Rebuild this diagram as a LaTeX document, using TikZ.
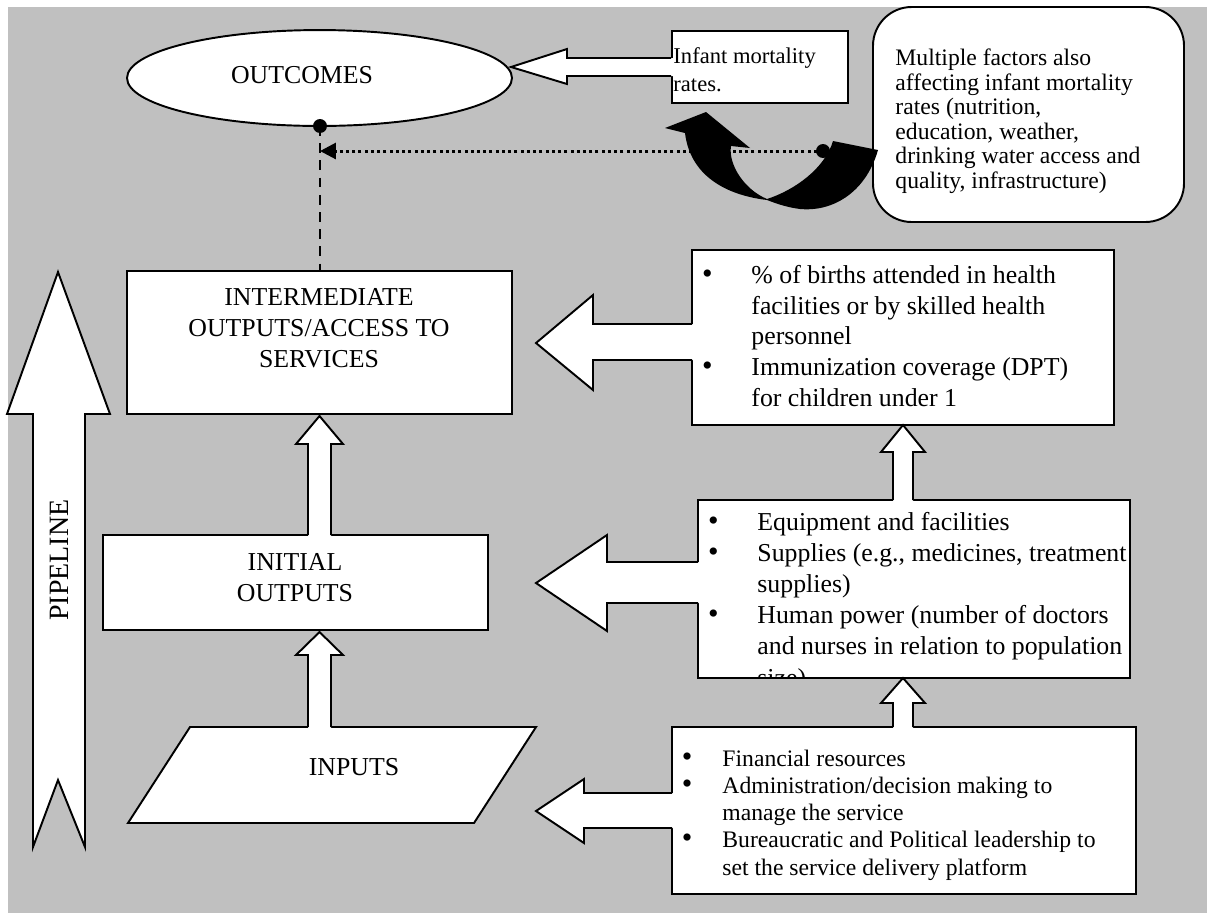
\documentclass[tikz,border=0pt]{standalone}
\usepackage{fontspec}
\setmainfont{Liberation Serif}
\usetikzlibrary{shapes.geometric,arrows.meta,fit}
\definecolor{bggrey}{RGB}{192,192,192}
\tikzset{
  outline/.style={draw=black, line width=0.9pt},
  wbox/.style={outline, fill=white, inner sep=0pt, rectangle},
  barrow/.style={outline, line join=miter},
  mtext/.style={inner sep=0pt, align=left, font=\fontsize{12}{14.2}\selectfont},
  ctext/.style={inner sep=0pt, align=center, font=\fontsize{12}{14.2}\selectfont},
  stext/.style={inner sep=0pt, align=left, font=\fontsize{11}{12.6}\selectfont},
  bigdot/.style={circle, fill=black, inner sep=0pt, minimum size=6.5pt},
}
\newcommand\bl[1]{\llap{{\fontsize{14}{14}\selectfont\textbullet}\hspace{#1}}}
\begin{document}
\begin{tikzpicture}[x=0.465pt,y=-0.465pt]
\useasboundingbox (0,0) rectangle (1207,913);
\fill[white] (0,0) rectangle (1207,913);
\fill[bggrey] (8,7) rectangle (1207,913);

% pipeline arrow
\draw[barrow, fill=white] (58,272) -- (110,414) -- (85,414) -- (85,847) -- (58,780) -- (33,847) -- (33,414) -- (7,414) -- cycle;
\node[rotate=90, inner sep=0pt, font=\fontsize{13}{15}\selectfont] (pipe) at (59,560) {PIPELINE};

% outcomes
\node[ellipse, outline, fill=white, minimum width=179pt, minimum height=44.6pt, inner sep=0pt] (outc) at (319.5,78) {};
\node[ctext] (outt) at (302,75) {OUTCOMES};

% infant mortality box
\node[wbox, fit={(672,31) (848,103)}] (inf) {};
\node[mtext, anchor=base west, font=\fontsize{10.5}{13}\selectfont] (inft) at (673,91) {Infant mortality\\rates.};
\fill[white] (512,67) -- (567,49) -- (567,58) -- (673,58) -- (673,76) -- (567,76) -- (567,84) -- cycle;
\draw[barrow] (inf.west |- 0,58) -- (567,58) -- (567,49) -- (511,67) -- (567,84) -- (567,76) -- (inf.west |- 0,76);

% multiple factors box
\node[wbox, rounded corners=18pt, fit={(873,7) (1184,222)}] (mult) {};
\node[stext, anchor=base west, font=\fontsize{11}{11.4}\selectfont] (multt) at (895,188.5) {Multiple factors also\\affecting infant mortality\\rates (nutrition,\\education, weather,\\drinking water access and\\quality, infrastructure)};

% curved black arrow
\fill[black] (685,133) -- (665,128) -- (706,112) -- (750,148) -- (731,146)
  .. controls (728,165) and (745,190) .. (767,199)
  .. controls (795,190) and (825,168) .. (833,141)
  -- (878,150)
  .. controls (865,195) and (830,212) .. (800,209)
  .. controls (785,207) and (775,203) .. (767,200)
  .. controls (725,195) and (690,175) .. (685,133) -- cycle;

% dots and connectors
\node[bigdot] (d1) at (320,126) {};
\node[bigdot] (d2) at (823,151) {};
\draw[line width=1.4pt, dash pattern=on 1.4pt off 1.5pt, -{Triangle[length=7.4pt,width=7.4pt]}] (d2.center) -- (d1 |- d2);

% intermediate box
\node[wbox, fit={(127,271) (512,414)}] (inter) {};
\node[ctext, anchor=base] (intert) at (319,367) {INTERMEDIATE\\OUTPUTS/ACCESS TO\\SERVICES};
\draw[line width=1pt, dash pattern=on 4.5pt off 3.5pt] (d1.center) -- (d1 |- inter.north);

% initial box
\node[wbox, fit={(103,535) (488,630)}] (init) {};
\node[ctext, anchor=base] (initt) at (295,601) {INITIAL\\OUTPUTS};

% inputs parallelogram
\draw[outline, fill=white] (190,727) -- (536,727) -- (474,823) -- (128,823) -- cycle;
\node[ctext] (inp) at (354,767) {INPUTS};

% up arrows on left column
\fill[white] (308,536) -- (308,444) -- (296,444) -- (319.5,416) -- (343,444) -- (331,444) -- (331,536) -- cycle;
\draw[barrow] (308,535) -- (308,444) -- (296,444) -- (319.5,416) -- (343,444) -- (331,444) -- (331,535);
\fill[white] (308,728) -- (308,655) -- (296,655) -- (319.5,632) -- (343,655) -- (331,655) -- (331,728) -- cycle;
\draw[barrow] (308,727) -- (308,655) -- (296,655) -- (319.5,632) -- (343,655) -- (331,655) -- (331,727);

% right boxes
\node[wbox, fit={(692,250) (1114,425)}] (b1) {};
\node[mtext, anchor=base west] (b1t) at (751,406) {\bl{18pt}\% of births attended in health\\facilities or by skilled health\\personnel\\\bl{18pt}Immunization coverage (DPT)\\for children under 1};

\node[wbox, fit={(698,500) (1130,678)}] (b2) {};
\begin{scope}
\clip (698,500) rectangle (1130,677);
\node[mtext, anchor=base west, font=\fontsize{12}{14.5}\selectfont] (b2t) at (757,686) {\bl{18pt}Equipment and facilities\\\bl{18pt}Supplies (e.g., medicines, treatment\\supplies)\\\bl{18pt}Human power (number of doctors\\and nurses in relation to population\\size)};
\end{scope}

\node[wbox, fit={(672,727) (1136,894)}] (b3) {};
\node[stext, anchor=base west] (b3t) at (722,875) {\bl{14pt}Financial resources\\\bl{14pt}Administration/decision making to\\manage the service\\\bl{14pt}Bureaucratic and Political leadership to\\set the service delivery platform};

% left arrows from right boxes
\fill[white] (693,324) -- (593,324) -- (593,295) -- (536,343) -- (593,390) -- (593,360) -- (693,360) -- cycle;
\draw[barrow] (692,324) -- (593,324) -- (593,295) -- (536,343) -- (593,390) -- (593,360) -- (692,360);
\fill[white] (699,562) -- (607,562) -- (607,535) -- (536,583) -- (607,631) -- (607,603) -- (699,603) -- cycle;
\draw[barrow] (698,562) -- (607,562) -- (607,535) -- (536,583) -- (607,631) -- (607,603) -- (698,603);
\fill[white] (673,793) -- (584,793) -- (584,779) -- (536,811) -- (584,843) -- (584,828) -- (673,828) -- cycle;
\draw[barrow] (672,793) -- (584,793) -- (584,779) -- (536,811) -- (584,843) -- (584,828) -- (672,828);

% up arrows on right column
\fill[white] (893,501) -- (893,452) -- (881,452) -- (903,425) -- (925,452) -- (913,452) -- (913,501) -- cycle;
\draw[barrow] (893,500) -- (893,452) -- (881,452) -- (903,425) -- (925,452) -- (913,452) -- (913,500);
\fill[white] (893,728) -- (893,703) -- (881,703) -- (903,678) -- (925,703) -- (913,703) -- (913,728) -- cycle;
\draw[barrow] (893,727) -- (893,703) -- (881,703) -- (903,678) -- (925,703) -- (913,703) -- (913,727);
\end{tikzpicture}
\end{document}
